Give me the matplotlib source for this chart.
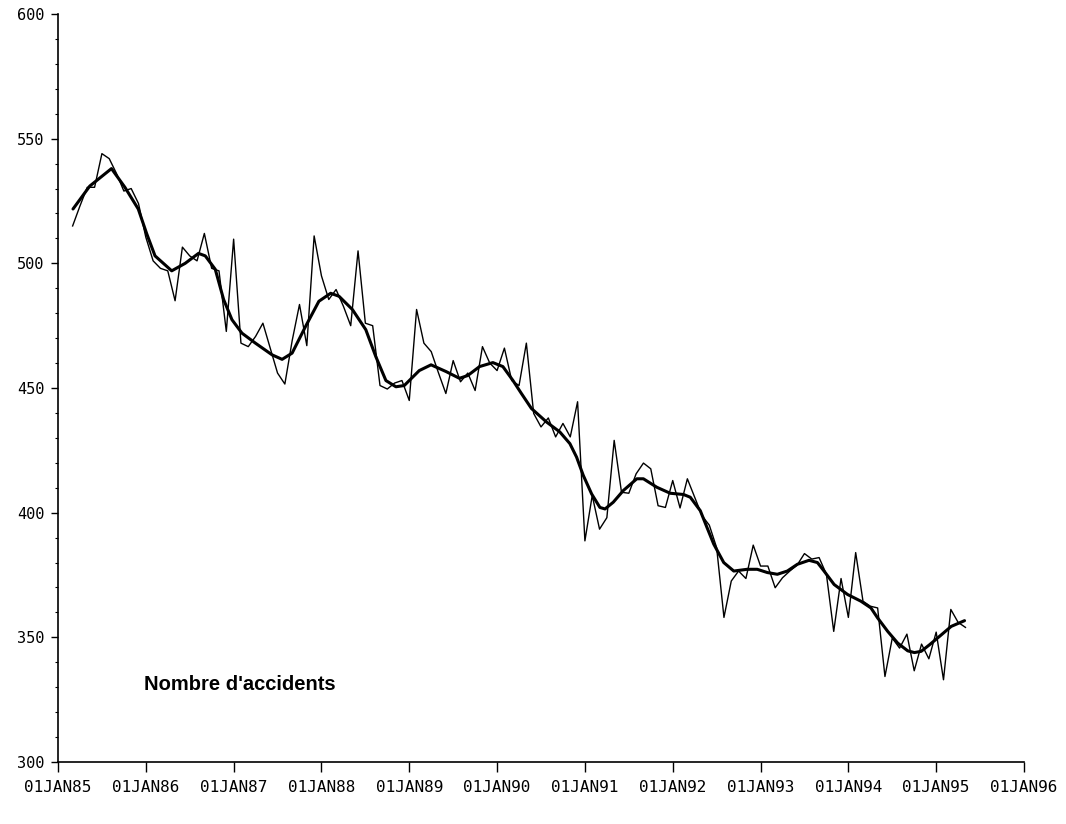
import numpy as np
import matplotlib.pyplot as plt
from matplotlib.ticker import MultipleLocator


# monthly series, March 1985 -> May 1995
start_year = 1985
start_month = 3
accidents = [
    515, 523, 530.5, 530.5, 544, 542, 536, 529, 530, 524, 510.5, 501,
    498, 497, 485, 506.5, 503, 501, 512, 498, 497, 472.7, 509.7, 468,
    466.6, 470.7, 476, 466, 456, 451.6, 469, 483.5, 467, 511, 495, 485.5,
    489.5, 482.8, 475, 505, 476, 475, 451, 449.6, 452, 453, 445, 481.5,
    468, 464.6, 456, 447.8, 461, 452.5, 456, 449, 466.6, 460, 457, 466,
    453, 451, 468, 439.8, 434.4, 438, 430.4, 435.8, 430.4, 444.5, 388.7, 406.9,
    393.4, 398, 429, 408.2, 407.8, 415.6, 419.9, 417.6, 402.8, 402.1, 412.9, 401.9,
    413.6, 406.2, 398.8, 395, 386, 358, 372.6, 376.6, 373.6, 387, 378.6, 378.6,
    369.9, 373.9, 376.6, 379, 383.6, 381.4, 382, 375.3, 352.4, 373.6, 358, 384,
    364.5, 362.5, 361.8, 334.3, 349.7, 345.7, 351.3, 336.6, 347.3, 341.4, 352.1, 333,
    361.2, 356, 354,
]

# smoothed trend (decimal years)
trend_years = [
    1985.171, 1985.362, 1985.609, 1985.762, 1985.914, 1986.009, 1986.105, 1986.295,
    1986.448, 1986.600, 1986.677, 1986.791, 1986.886, 1986.981,
    1987.095, 1987.248, 1987.438, 1987.552, 1987.666, 1987.819, 1987.971, 1988.105,
    1988.200, 1988.352, 1988.505, 1988.619, 1988.734, 1988.848, 1988.943, 1989.114,
    1989.248, 1989.419, 1989.571, 1989.666, 1989.800, 1989.952, 1990.066, 1990.181,
    1990.277, 1990.391, 1990.562, 1990.714, 1990.829, 1990.905, 1990.981, 1991.077,
    1991.171,
    1991.229, 1991.323, 1991.438, 1991.591, 1991.666, 1991.819, 1991.971, 1992.123,
    1992.200, 1992.314, 1992.391, 1992.467, 1992.581, 1992.695, 1992.848, 1992.962,
    1993.077, 1993.191, 1993.305,
    1993.419, 1993.552, 1993.648, 1993.723, 1993.838, 1993.991, 1994.143, 1994.257,
    1994.333, 1994.448, 1994.562, 1994.676, 1994.752, 1994.829, 1994.923, 1995.038,
    1995.171, 1995.323,
]
trend = [
    521.8, 531, 538, 530.5, 521.8, 512, 503, 497, 500, 504, 503, 497.6, 485.5, 477.4,
    472, 468, 463.3, 461.5, 464, 474.7, 484.8, 488, 486.8, 481.5, 473.4, 462.6,
    453, 450.5, 451, 457,
    459.3, 456.6, 453.9, 455, 458.6, 460.2, 458.6, 453, 447.8, 441.8, 436.4, 432.4,
    427.7, 422.3, 415, 407.5, 402.1,
    401.5, 404.2, 408.9, 413.6, 413.6, 410.2, 407.8, 407.3, 406.2, 400.8, 394, 387.4,
    380, 376.6, 377.3, 377.3, 376, 375.3, 376.6,
    379.3, 380.9, 380, 376.6, 371.2, 367.2, 364.5, 361.8, 357.8, 352.4, 347.7, 344.6,
    343.9, 344.4, 347, 350.4, 354.4, 356.7,
]

tick_years = list(range(1985, 1997))
tick_labels = ["01JAN%02d" % (y % 100) for y in tick_years]

months = np.arange(len(accidents))
x_raw = start_year + (start_month - 1 + months) / 12

fig = plt.figure(figsize=(10.66, 8.24), dpi=100)
ax = fig.add_axes([0.0544, 0.0752, 0.9062, 0.9078])

ax.plot(x_raw, accidents, color="black", lw=1.0)
ax.plot(trend_years, trend, color="black", lw=2.2,
        solid_capstyle="round", solid_joinstyle="round")

ax.text(1985.98, 331, "Nombre d'accidents", fontsize=14.5, fontweight="bold",
        family="Liberation Sans", va="center", ha="left")

ax.set_xlim(1985, 1996)
ax.set_ylim(300, 600)
ax.set_xticks(tick_years)
ax.set_xticklabels(tick_labels, family="DejaVu Sans Mono", fontsize=11.5)
ax.yaxis.set_major_locator(MultipleLocator(50))
ax.yaxis.set_minor_locator(MultipleLocator(10))
for lab in ax.get_yticklabels():
    lab.set_family("DejaVu Sans Mono")
    lab.set_fontsize(11)

ax.spines["top"].set_visible(False)
ax.spines["right"].set_visible(False)
ax.spines["left"].set_linewidth(1.2)
ax.spines["bottom"].set_linewidth(1.2)
ax.tick_params(axis="x", direction="out", length=7, width=1, pad=6)
ax.tick_params(axis="y", which="major", direction="out", length=5, width=1, pad=5)
ax.tick_params(axis="y", which="minor", direction="out", length=2, width=0.8)

fig.savefig("out.png", dpi=100)
